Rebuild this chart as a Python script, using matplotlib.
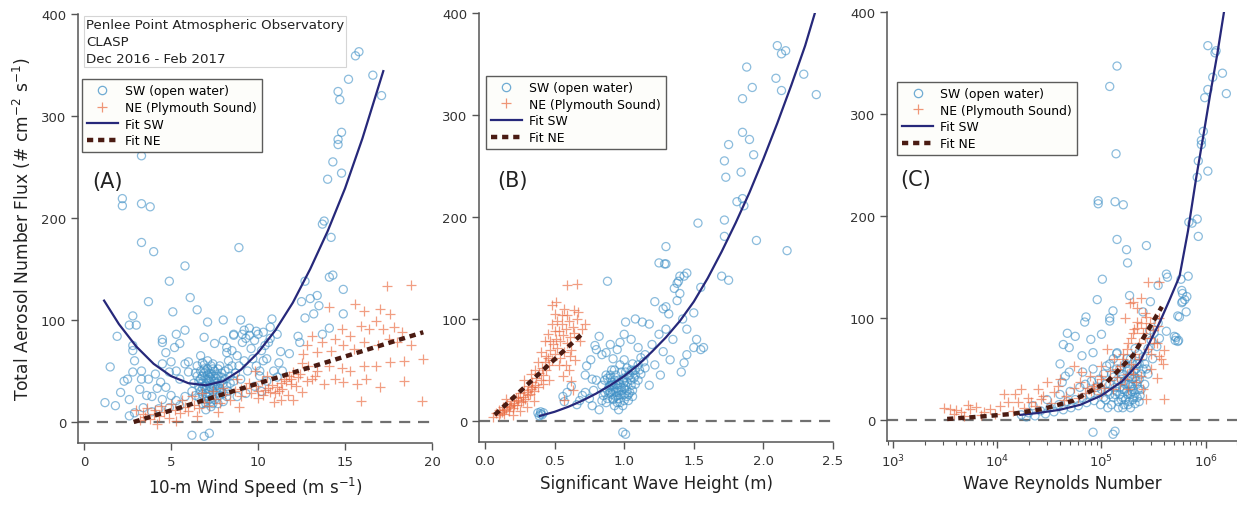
import matplotlib
matplotlib.use("Agg")
import matplotlib.pyplot as plt
from matplotlib.lines import Line2D
from matplotlib.ticker import FormatStrFormatter, LogLocator

plt.rcParams['font.family'] = ['DejaVu Sans']

# ---- data: (x, flux) ----
# (A) 10-m wind speed
a_sw = [(15.6,359),(15.8,363),(15.2,336),(16.6,340),(17.1,320),(14.6,324),(14.7,316),(14.8,284),(14.6,277),(14.6,272),
        (14.3,255),(14.8,244),(14.0,238),(13.8,197),(13.7,194),(14.2,181),
        (2.2,219),(2.2,212),(3.3,214),(3.8,211),(3.3,261),(3.3,176),(4.0,167),(8.9,171),(5.8,153),(4.9,138),(3.7,118),
        (6.1,122),(6.5,110),(8.0,100),(7.1,98),(9.0,100),(5.1,108),(2.8,104),(2.6,95),(3.0,95),(1.9,84),(1.5,54),(1.2,19),
        (1.8,16),(2.6,6),(6.2,-13),(6.9,-14),(7.2,-11),
        (14.1,142),(14.3,144),(14.9,130),(12.7,138),(12.5,118),(13.0,121),(13.4,124),(13.5,114),(13.2,106),(12.7,102),
        (14.9,106),(13.7,86),(14.1,92),(12.3,84),(12.4,78),(11.8,67),(11.3,69),(11.1,86),(10.8,101),(10.7,93),(10.3,88),
        (9.9,89),(11.4,50),(11.1,44),(10.5,62),(10.1,50),
        (4.5,81),(4.5,78),(5.3,86),(5.8,90),(5.5,77),(5.2,73),(4.7,68),(2.8,75),(2.8,70),(2.9,60),(4.5,57),(5.0,59),(5.8,57),
        (6.0,59),(6.7,65),(7.5,77),(8.2,73),(8.6,86),(9.1,86),(6.9,83),(2.8,49),(2.5,42),(2.3,40),(3.3,50),(3.3,42),(3.7,42),
        (4.1,47),(4.4,39),(4.9,49),(5.3,50),(5.5,42),(6.0,49),(3.6,26),(3.9,25),(2.6,22),(2.1,29),(4.5,22),(5.0,26),(5.3,21),
        (5.8,25),(5.5,16),(4.9,14),(4.3,13),(3.9,10),(3.4,14),(2.9,9),(4.7,34),(4.2,33),(3.2,32),
        (6.6,40),(6.8,45),(7.0,50),(7.2,48),(7.4,52),(7.6,47),(6.9,35),(7.1,38),(7.3,42),(7.5,40),(7.7,36),(6.7,30),(7.0,28),
        (7.2,32),(7.4,30),(7.6,28),(7.8,33),(8.0,38),(7.1,25),(6.9,22),(7.3,20),(7.5,22),(7.7,18),(8.2,25),(8.4,45),(6.5,55),
        (6.8,58),(7.1,60),(7.4,57),(7.8,55),(8.1,50),(7.9,44),(6.4,48),(6.6,24),(7.3,15),(7.0,12),(8.3,30),(8.6,40),(7.4,36),
        (7.2,44),(7.0,42),(6.8,38),(7.1,46),(7.3,34),(6.9,52),(7.6,43),
        (6.7,42),(6.9,48),(7.1,52),(7.3,55),(7.5,50),(7.7,45),(7.9,40),(6.8,33),(7.0,36),(7.2,40),(7.4,45),(7.6,38),(7.8,30),
        (8.0,28),(6.6,35),(6.8,27),(7.0,32),(7.2,27),(7.4,24),(7.6,32),(7.8,26),(8.2,35),(8.4,38),(6.5,45),(6.7,50),(6.9,56),
        (7.1,42),(7.3,47),(7.5,34),(7.7,52),(7.9,48),(8.1,42),(7.0,18),(7.2,22),(7.4,18),(6.8,18),(8.0,20),(8.3,52),(8.5,55),
        (6.3,38),(6.2,30),(6.4,26),
        (8.5,70),(8.8,65),(9.1,78),(9.3,82),(9.5,85),(9.8,80),(10.0,86),(9.6,72),(9.2,60),(8.9,55),(9.4,50),(8.7,48),(9.0,42),
        (9.7,62),(10.2,70),(10.4,75),(10.6,78),(10.3,60),(9.9,55),(10.1,45),(8.3,60),(8.6,85),(9.2,90),(9.5,92),(8.0,80),
        (8.2,68),(10.7,82),(10.9,50),(10.5,40),(9.8,35),(9.3,28),(8.8,25),(10.2,30),(11.2,58)]
a_ne = [(17.4,133),(18.8,134),(14.1,113),(15.6,116),(16.1,109),(17.0,111),(17.6,106),(14.8,91),(15.3,84),(15.9,94),
        (16.4,91),(16.8,99),(17.2,91),(17.8,93),(18.3,88),(13.1,84),(13.7,78),(14.4,81),(12.8,75),(12.6,67),(13.4,69),
        (14.2,70),(14.9,75),(15.5,72),(16.1,78),(16.9,75),(17.5,81),(18.0,78),(18.8,75),(19.5,62),(18.4,60),(17.6,59),
        (16.8,55),(16.1,55),(15.3,50),(14.8,53),(14.1,55),(13.4,50),(12.9,55),(12.5,58),(12.0,49),(14.4,42),(14.9,39),
        (15.7,37),(16.2,42),(17.0,34),(18.4,40),(13.1,42),(13.8,37),(11.9,37),(11.5,42),(11.1,34),(10.7,29),(10.3,26),
        (10.0,24),(12.5,29),(15.9,21),(19.4,21),(11.3,22),
        (3.2,2),(3.5,5),(3.8,3),(4.0,8),(4.3,6),(4.6,10),(4.9,4),(5.2,12),(5.5,9),(5.8,15),(6.0,11),(6.3,17),(6.6,14),
        (6.9,20),(7.2,16),(7.5,23),(7.8,19),(8.1,27),(8.4,22),(8.7,30),(9.0,25),(9.3,33),(9.6,28),(9.9,35),(3.0,12),
        (3.6,14),(4.4,16),(5.0,18),(5.6,22),(6.2,25),(6.8,28),(7.4,30),(8.0,33),(4.2,-2),(5.3,1),(6.5,6),(7.7,10),(8.9,15),
        (10.4,31),(10.8,36),(11.2,30),(11.6,40),(10.5,45),(9.8,50),(8.8,42),(4.1,12),(3.4,8),
        (11.0,28),(11.4,32),(11.7,26),(12.2,35),(11.8,45),(12.3,44),(10.9,20),(12.0,22),
        (9.5,38),(10.2,40),(10.6,33),(11.3,38),(11.9,42),(12.4,47),(12.8,40),(13.3,45),(9.0,32),(10.0,30)]
a_fit_sw_x = [1.15, 2.0, 3.0, 4.0, 5.0, 6.0, 7.0, 8.0, 9.0, 10.0, 11.0, 12.0, 13.0, 14.0, 15.0, 16.0, 17.2]
a_fit_sw_y = [119, 96, 74, 57, 45, 38, 36, 40, 51, 68, 90, 117, 150, 187, 229, 278, 344]
a_fit_ne_x = [2.85, 19.5]
a_fit_ne_y = [0, 88]

# (B) significant wave height
b_sw = [(0.39,5),(0.40,7),(0.41,6),(0.40,9),(0.42,8),(0.38,8),
        (0.56,24),(0.59,28),(0.62,34),(0.57,19),(0.73,54),(0.77,41),(0.72,28),(0.77,15),(0.79,74),(0.82,83),(0.87,67),
        (0.92,61),(0.97,77),(1.01,97),(1.08,100),(1.13,97),(1.22,117),(0.88,42),(0.91,35),(0.96,28),(1.00,42),(1.06,49),
        (1.10,55),(0.92,21),(0.82,11),(0.96,11),
        (0.85,25),(0.88,30),(0.90,35),(0.92,22),(0.94,28),(0.96,40),(0.98,33),(1.00,26),(1.02,38),(1.04,45),(1.06,30),
        (1.08,50),(0.90,45),(0.93,50),(0.97,55),(1.00,60),(1.03,20),(0.95,18),(0.99,15),(0.87,18),(1.05,35),(1.10,40),
        (1.12,46),(1.15,52),(1.07,42),(0.91,38),(0.95,32),(1.01,48),(0.89,27),(0.84,35),(0.80,40),(0.78,30),(0.75,22),
        (0.70,25),(0.68,20),(0.66,16),(0.72,45),(0.76,60),(0.80,70),(0.84,65),(0.90,75),(0.95,70),(1.00,85),(1.05,80),
        (1.10,72),(1.15,65),(1.20,75),(1.25,85),(1.30,90),(1.35,80),(1.18,95),(1.28,110),(1.32,105),(1.38,118),(1.40,125),
        (1.42,100),(1.45,90),(1.45,65),(1.43,57),(1.41,48),(1.50,72),(1.55,70),(1.33,60),(1.26,45),(1.22,55),(1.18,35),
        (1.28,68),(1.30,112),(1.36,130),(1.38,135),(1.40,142),(1.45,145),(1.30,154),(1.25,155),(0.99,-11),(1.01,-13),
        (0.88,137),(0.98,30),(1.02,24),(0.94,36),(1.06,56),(1.12,62),
        (0.86,28),(0.88,22),(0.90,28),(0.92,30),(0.94,24),(0.96,22),(0.98,26),(1.00,32),(1.02,30),(1.04,28),(0.86,40),
        (0.90,42),(0.94,45),(0.98,48),(1.02,52),(0.93,40),(0.97,36),(1.01,35),(1.05,40),(1.08,36),(0.89,33),(0.92,36),
        (0.96,30),(1.00,20),(1.03,26),(0.97,18),(0.93,15),(1.08,45),(1.11,50),(1.14,58),(1.06,24),(0.84,20),(0.87,45),
        (0.91,50),(0.99,40),(1.03,44),(0.95,25),(0.91,26),(1.00,38),(1.05,50),
        (2.10,368),(2.13,360),(2.16,363),(1.88,347),(2.09,336),(2.29,340),(2.38,320),(1.92,327),(1.85,316),(2.13,324),
        (1.85,283),(1.90,276),(1.75,271),(1.93,261),(1.72,255),(1.73,239),(1.84,244),(1.81,215),(1.85,218),(1.86,211),
        (1.53,194),(1.72,197),(1.72,181),(1.95,177),(2.17,167),(1.30,171),(1.29,154),(1.70,142),(1.75,138),(1.43,142),
        (1.39,137),(1.55,131),(1.50,106),(1.52,80),(1.57,72)]
b_ne = [(0.06,4),(0.08,8),(0.10,6),(0.10,11),(0.12,9),(0.13,14),(0.14,7),(0.15,12),(0.16,17),(0.17,10),(0.18,15),
        (0.19,20),(0.20,13),(0.21,18),(0.22,23),(0.23,16),(0.24,21),(0.25,27),(0.26,19),(0.27,24),(0.28,30),(0.29,22),
        (0.30,28),(0.31,34),(0.32,26),(0.33,31),(0.34,38),(0.35,29),(0.36,35),(0.37,42),(0.38,33),(0.39,47),(0.40,40),
        (0.41,52),(0.42,45),(0.43,58),(0.44,50),(0.45,62),(0.46,55),(0.47,70),(0.48,60),(0.49,75),(0.50,66),(0.51,80),
        (0.52,72),(0.53,88),(0.54,78),(0.55,95),(0.56,84),(0.57,68),(0.58,90),(0.59,76),(0.60,98),(0.61,82),(0.62,70),
        (0.63,92),(0.64,86),(0.65,60),(0.66,100),(0.68,78),(0.70,90),(0.72,95),(0.45,85),(0.43,78),(0.40,68),(0.38,58),
        (0.36,50),(0.48,95),(0.50,105),(0.52,98),(0.35,20),(0.30,14),(0.25,10),(0.20,6),(0.56,44),(0.62,39),(0.57,21),
        (0.63,30),(0.60,50),(0.58,55),(0.48,114),(0.51,117),(0.57,110),(0.64,109),(0.67,107),(0.59,104),(0.59,133),
        (0.66,134),(0.15,22),(0.28,40),(0.33,46),(0.42,36),(0.46,40),
        (0.11,8),(0.14,11),(0.17,14),(0.21,16),(0.24,24),(0.27,20),(0.31,25),(0.34,33),(0.44,64),(0.50,88),(0.54,62),
        (0.47,78),(0.53,55),(0.61,64),(0.55,104)]
b_fit_sw_x = [0.395, 0.5, 0.6, 0.7, 0.8, 0.9, 1.0, 1.1, 1.2, 1.3, 1.4, 1.5, 1.6, 1.7, 1.8, 1.9, 2.0, 2.1, 2.2, 2.3, 2.37]
b_fit_sw_y = [5, 9, 14, 20, 27, 35, 44, 55, 68, 82, 98, 117, 140, 166, 194, 224, 257, 292, 329, 368, 400]
b_fit_ne_x = [0.07, 0.71]
b_fit_ne_y = [6, 87]

# (C) wave Reynolds number
c_sw = [(1.05e6,367),(1.26e6,362),(1.23e6,360),(1.45e6,340),(1.17e6,336),(1.05e6,324),(9.8e5,316),(1.58e6,320),
        (9.5e5,283),(9.1e5,274),(9.1e5,270),(8.5e5,254),(1.05e6,244),(8.3e5,238),(6.9e5,194),(8.3e5,197),(7.4e5,193),
        (8.5e5,180),
        (1.2e5,327),(1.41e5,347),(1.38e5,261),(9.3e4,215),(9.3e4,212),(1.35e5,214),(1.62e5,211),(1.41e5,177),
        (1.74e5,167),(1.78e5,154),(2.7e5,171),(1.02e5,138),(4.2e5,143),(6.8e5,141),(5.8e5,138),(6.0e5,124),(6.3e5,118),
        (5.9e5,115),(6.5e5,106),(5.4e5,102),(5.0e5,82),(5.4e5,77),(4.2e5,87),(1.86e5,122),(1.29e5,107),(1.2e5,100),
        (9.1e4,118),(7.1e4,101),(6.9e4,96),(1.2e5,97),(4.7e4,85),(5.6e4,82),(4.3e4,74),(4.9e4,71),(7.9e4,79),(1.0e5,84),
        (6.5e4,63),(8.3e4,66),(4.0e4,55),(4.5e4,43),(4.2e4,37),(4.9e4,47),(6.6e4,47),(8.3e4,50),(1.12e5,53),(1.41e5,66),
        (5.2e5,81),(5.1e5,78),(5.5e5,78),(5.6e5,101),(6.0e5,116),(6.6e5,121),(5.9e5,127),(4.3e5,140),(3.5e5,132),
        (2.95e5,116),(2.5e5,106),
        (1.7e4,5),(2.0e4,7),(2.3e4,4),(2.6e4,9),(2.9e4,6),(3.2e4,12),(3.5e4,8),(3.9e4,15),(4.3e4,10),(4.7e4,18),
        (5.1e4,12),(5.6e4,20),(6.0e4,14),(6.6e4,22),(7.2e4,17),(7.8e4,25),(8.5e4,19),(9.2e4,28),(3.0e4,20),(4.0e4,25),
        (5.0e4,28),(6.2e4,32),(7.0e4,35),(8.0e4,38),(9.0e4,32),(2.2e4,14),(1.9e4,3),(9.8e4,15),(1.05e5,22),
        (8.3e4,-12),(1.35e5,-11),(1.29e5,-14),
        (1.1e5,20),(1.15e5,28),(1.2e5,35),(1.25e5,15),(1.3e5,42),(1.35e5,25),(1.4e5,50),(1.45e5,18),(1.5e5,32),
        (1.55e5,45),(1.6e5,22),(1.65e5,38),(1.7e5,55),(1.75e5,28),(1.8e5,15),(1.85e5,42),(1.9e5,60),(1.95e5,33),
        (2.0e5,20),(2.05e5,48),(2.1e5,26),(2.15e5,38),(2.2e5,55),(2.25e5,30),(2.3e5,18),(2.4e5,45),(2.5e5,62),(2.6e5,35),
        (2.7e5,50),(2.8e5,70),(1.3e5,60),(1.2e5,55),(1.4e5,65),(1.6e5,12),(1.75e5,48),(1.9e5,25),(2.0e5,40),(2.1e5,70),
        (1.45e5,38),(1.55e5,20),(1.65e5,30),(1.8e5,35),(1.95e5,45),(2.2e5,22),(1.35e5,32),(1.25e5,45),(1.15e5,12),
        (3.0e5,78),(3.2e5,85),(3.4e5,72),(3.1e5,60),(2.9e5,88),(3.5e5,95),(3.6e5,80),(1.0e5,30),(9.5e4,40),(1.05e5,45),
        (1.5e5,25),(1.6e5,30),(1.7e5,20),(1.8e5,25),(1.9e5,35),(2.0e5,30),(2.1e5,42),(2.2e5,35),(2.3e5,40),(1.7e5,35),
        (1.85e5,18),(1.95e5,28),(2.05e5,22),(2.15e5,50),(2.3e5,55),(2.4e5,30),(1.6e5,45),(1.5e5,50),(1.4e5,28),
        (1.3e5,22),(1.75e5,60),(2.0e5,55),(2.25e5,65),(2.5e5,50),(1.65e5,15),(1.45e5,12),(2.1e5,16),(1.9e5,12),
        (2.35e5,24),(1.55e5,40),(1.85e5,50),(2.6e5,55),(2.8e5,45),(1.2e5,25),(1.1e5,35)]
c_ne = [(3.5e3,11),(4.0e3,10),(3.1e3,12),(5.5e3,11),(6.3e3,13),(7.4e3,8),(8.5e3,11),(1.07e4,14),(1.26e4,18),
        (1.48e4,25),(1.95e4,22),(2.1e4,18),(2.6e4,21),(2.75e4,24),(3.5e4,27),(3.8e4,33),(4.6e4,24),(5.4e4,31),(6.2e4,37),
        (7.2e4,31),(8.3e4,33),(9.8e4,43),(1.05e5,31),(1.2e5,39),(1.41e5,50),(1.62e5,60),(1.74e5,70),(1.9e5,80),
        (2.04e5,89),(2.2e5,96),(2.0e5,116),(1.86e5,115),(2.8e5,135),(3.55e5,135),(2.7e5,21),(4.0e5,21),(3.6e5,63),
        (4.0e5,69),(3.4e5,75),(2.95e5,80),(2.7e5,101),(2.4e5,43),(2.14e5,37),(2.0e5,50),(1.74e5,45),(1.51e5,53),
        (1.32e5,60),(1.12e5,70),(9.8e4,53),(7.8e4,43),(6.3e4,47),(5.4e4,53),(4.0e4,40),(3.0e4,37),(2.45e4,30),(1.7e4,30),
        (1.58e4,18),(1.17e4,25),(5.2e3,15),(4.5e3,8),(2.5e5,30),(3.4e5,41),
        (1.3e5,30),(1.5e5,35),(1.7e5,40),(1.9e5,55),(2.1e5,65),(2.3e5,75),(2.5e5,85),(2.7e5,90),(2.9e5,95),(3.1e5,88),
        (3.3e5,100),(3.5e5,92),(3.7e5,60),(3.9e5,55),(2.2e5,110),(2.6e5,105),(1.0e5,25),(8.0e4,28),(9.0e4,35),(6.0e4,22),
        (7.0e4,26),(4.4e4,20),(3.3e4,17),(2.3e4,14),(1.8e4,12),(1.4e4,9),(9.5e3,6),(7.0e3,5),(4.8e3,4),(3.8e3,6),
        (1.6e5,65),(1.8e5,75),(2.0e5,85),(2.2e5,90),(2.4e5,95),(2.6e5,80),(2.8e5,70),(3.0e5,65),(3.2e5,75),(2.3e5,60),
        (2.0e5,45),(1.8e5,30),(1.4e5,42),(1.2e5,48),(1.0e5,40),(8.5e4,30),(3.0e5,50),(3.6e5,100),(2.4e5,120),(1.7e5,100)]
c_fit_sw_x = [1.66e4, 2.51e4, 3.98e4, 6.31e4, 1.0e5, 1.58e5, 2.34e5, 3.63e5, 4.47e5, 5.62e5, 6.76e5, 8.13e5, 9.55e5,
              1.1e6, 1.29e6, 1.5e6]
c_fit_sw_y = [5, 7, 10, 15, 24, 38, 57, 96, 117, 141, 185, 238, 280, 318, 358, 400]
c_fit_ne_x = [3.3e3, 6.3e3, 1.41e4, 2.8e4, 5.37e4, 1.12e5, 2.0e5, 3.8e5]
c_fit_ne_y = [1, 3, 6, 11, 19, 37, 63, 111]

SW_COL = '#3f90c6'
NE_COL = '#ea6a40'
FIT_SW = '#26287a'
FIT_NE = '#4a1b12'
AX_COL = '#555555'
NE_DASH = (0, (1.4, 1.1))


def draw_panel(ax, sw, ne, fsw, fne):
    ax.axhline(0, color='#707070', lw=1.6, ls=(0, (5, 3.5)), zorder=0)
    ax.scatter([p[0] for p in sw], [p[1] for p in sw], s=34, facecolors='none',
               edgecolors=SW_COL, linewidths=0.9, alpha=0.6, zorder=2)
    ax.scatter([p[0] for p in ne], [p[1] for p in ne], s=55, marker='+',
               color=NE_COL, linewidths=0.9, alpha=0.65, zorder=3)
    ax.plot(fsw[0], fsw[1], color=FIT_SW, lw=1.6, zorder=4)
    ax.plot(fne[0], fne[1], color=FIT_NE, lw=3.2, ls=NE_DASH, zorder=5)

    for s in ['top', 'right']:
        ax.spines[s].set_visible(False)
    for s in ['left', 'bottom']:
        ax.spines[s].set_color(AX_COL)
        ax.spines[s].set_linewidth(1.1)
    ax.set_ylim(-20.6, 400)
    ax.set_yticks([0, 100, 200, 300, 400])
    ax.tick_params(direction='out', length=5, width=1, colors=AX_COL,
                   labelcolor='#333333', labelsize=9.5)
    ax.tick_params(which='minor', direction='out', length=3, width=0.8, colors=AX_COL)


def add_legend(ax, anchor):
    handles = [
        Line2D([], [], ls='none', marker='o', mfc='none', mec=SW_COL, ms=6, mew=0.9, alpha=0.75),
        Line2D([], [], ls='none', marker='+', color=NE_COL, ms=7, mew=0.9, alpha=0.7),
        Line2D([], [], color=FIT_SW, lw=1.6),
        Line2D([], [], color=FIT_NE, lw=3.2, ls=NE_DASH),
    ]
    labels = ['SW (open water)', 'NE (Plymouth Sound)', 'Fit SW', 'Fit NE']
    leg = ax.legend(handles, labels, loc='upper left', bbox_to_anchor=anchor,
                    fontsize=8.9, frameon=True, fancybox=False, handlelength=2.5,
                    labelspacing=0.3, borderpad=0.4, handletextpad=0.6, borderaxespad=0)
    leg.get_frame().set_edgecolor('#333333')
    leg.get_frame().set_linewidth(1.0)
    leg.get_frame().set_facecolor('#fdfdf9')
    leg.set_zorder(10)


fig = plt.figure(figsize=(12.37, 5.06), dpi=100)
ax_a = fig.add_axes([78/1237, 62/506, 354/1237, 429/506])
ax_b = fig.add_axes([479/1237, 63/506, 354/1237, 429/506])
ax_c = fig.add_axes([887/1237, 64/506, 350/1237, 429/506])

# (A)
draw_panel(ax_a, a_sw, a_ne, (a_fit_sw_x, a_fit_sw_y), (a_fit_ne_x, a_fit_ne_y))
ax_a.set_xlim(-0.35, 20)
ax_a.set_xticks([0, 5, 10, 15, 20])
ax_a.set_xlabel('10-m Wind Speed (m s$^{-1}$)', fontsize=12, color='#222222', labelpad=5)
ax_a.set_ylabel('Total Aerosol Number Flux (# cm$^{-2}$ s$^{-1}$)', fontsize=12.3,
                color='#222222', labelpad=6)
ax_a.text(0.023, 0.99, 'Penlee Point Atmospheric Observatory\nCLASP\nDec 2016 - Feb 2017',
          transform=ax_a.transAxes, va='top', ha='left', fontsize=9.6, color='#222222',
          linespacing=1.4, zorder=11,
          bbox=dict(facecolor='white', edgecolor='#d5d5d5', lw=0.8, boxstyle='square,pad=0.15'))
add_legend(ax_a, (0.011, 0.848))
ax_a.text(0.04, 0.61, '(A)', transform=ax_a.transAxes, fontsize=15, color='#222222', va='center')

# (B)
draw_panel(ax_b, b_sw, b_ne, (b_fit_sw_x, b_fit_sw_y), (b_fit_ne_x, b_fit_ne_y))
ax_b.set_xlim(-0.043, 2.5)
ax_b.set_xticks([0, 0.5, 1.0, 1.5, 2.0, 2.5])
ax_b.xaxis.set_major_formatter(FormatStrFormatter('%.1f'))
ax_b.set_xlabel('Significant Wave Height (m)', fontsize=12, color='#222222', labelpad=5)
add_legend(ax_b, (0.02, 0.853))
ax_b.text(0.051, 0.61, '(B)', transform=ax_b.transAxes, fontsize=15, color='#222222', va='center')

# (C)
draw_panel(ax_c, c_sw, c_ne, (c_fit_sw_x, c_fit_sw_y), (c_fit_ne_x, c_fit_ne_y))
ax_c.set_xscale('log')
ax_c.set_xlim(873, 2.0e6)
ax_c.xaxis.set_major_locator(LogLocator(base=10, numticks=10))
ax_c.xaxis.set_minor_locator(LogLocator(base=10, subs=range(2, 10), numticks=40))
ax_c.set_xlabel('Wave Reynolds Number', fontsize=12, color='#222222', labelpad=3)
add_legend(ax_c, (0.029, 0.837))
ax_c.text(0.037, 0.61, '(C)', transform=ax_c.transAxes, fontsize=15, color='#222222', va='center')

fig.savefig('out.png', dpi=100)
